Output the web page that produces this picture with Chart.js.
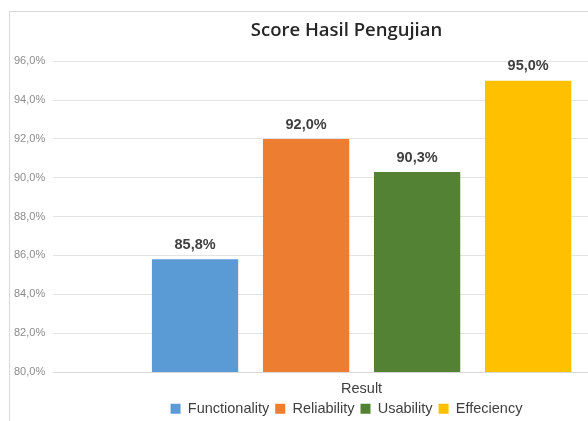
<!DOCTYPE html>
<html>
<head>
<meta charset="utf-8">
<script src="https://cdn.jsdelivr.net/npm/chart.js@4"></script>
<style>
  html, body { margin: 0; padding: 0; background: #fff; overflow: hidden; }
  #wrap {
    position: absolute; left: 9px; top: 11px;
    width: 674px; height: 413px;
    border: 1px solid #d9d9d9; box-sizing: border-box;
  }
</style>
</head>
<body>
<div id="wrap"><canvas id="scoreChart"></canvas></div>
<script>
const categories = ["Result"];
const seriesNames = ["Functionality", "Reliability", "Usability", "Effeciency"];
const seriesValues = [85.8, 92.0, 90.3, 95.0];
const seriesColors = ["#5b9bd5", "#ed7d31", "#548235", "#ffc000"];
const yTicks = [80, 82, 84, 86, 88, 90, 92, 94, 96];

// format like 85,8%
function pct(v) {
  return v.toFixed(1).replace(".", ",") + "%";
}

// draw the value above every bar
const valueLabels = {
  id: "valueLabels",
  afterDatasetsDraw(chart) {
    const ctx = chart.ctx;
    ctx.save();
    ctx.font = "bold 14.5px 'Liberation Sans', Arial, sans-serif";
    ctx.fillStyle = "#404040";
    ctx.textAlign = "center";
    ctx.textBaseline = "bottom";
    chart.data.datasets.forEach((ds, i) => {
      chart.getDatasetMeta(i).data.forEach((bar, j) => {
        ctx.fillText(pct(ds.data[j]), bar.x, bar.y - 7);
      });
    });
    ctx.restore();
  },
};

const ctx = document.getElementById("scoreChart").getContext("2d");
const chart = new Chart(ctx, {
  type: "bar",
  data: {
    labels: categories,
    datasets: seriesNames.map((name, i) => ({
      label: name,
      data: [seriesValues[i]],
      backgroundColor: seriesColors[i],
      borderWidth: 0,
      categoryPercentage: 0.72,
      barPercentage: 0.777,
    })),
  },
  options: {
    responsive: true,
    maintainAspectRatio: false,
    animation: false,
    layout: { padding: { left: -4, right: -5, top: 8, bottom: 2 } },
    plugins: {
      title: {
        display: true,
        text: "Score Hasil Pengujian",
        color: "#262626",
        font: { size: 18.5, weight: "600", family: "'Open Sans', sans-serif" },
        padding: { top: 0, bottom: 19 },
      },
      legend: {
        position: "bottom",
        labels: {
          color: "#404040",
          font: { size: 14.5, family: "'Liberation Sans', Arial, sans-serif" },
          boxWidth: 10,
          boxHeight: 10,
          padding: 6,
        },
      },
      tooltip: { enabled: false },
    },
    scales: {
      x: {
        grid: { display: false },
        border: { display: true, color: "#d9d9d9", width: 1 },
        ticks: {
          color: "#404040",
          font: { size: 14.5, lineHeight: 1.0, family: "'Liberation Sans', Arial, sans-serif" },
          padding: 2,
        },
      },
      y: {
        min: 80,
        max: 96,
        afterBuildTicks: (axis) => {
          axis.ticks = yTicks.map((v) => ({ value: v }));
        },
        grid: { color: "#e3e3e3", drawTicks: false },
        border: { display: false },
        ticks: {
          color: "#8c8c8c",
          font: { size: 11, family: "'Liberation Sans', Arial, sans-serif" },
          padding: 8,
          callback: (v) => pct(v),
        },
      },
      // empty spacer on the right, keeps the plot narrower than the frame
      spacer: {
        type: "linear",
        position: "right",
        grid: { display: false },
        border: { display: false },
        ticks: { display: false },
        afterFit: (axis) => {
          axis.width = 17;
        },
      },
    },
  },
  plugins: [valueLabels],
});

// legend box is a bit too tall with the wider item padding, trim it
// and draw the items a little higher
const origFit = chart.legend.fit;
chart.legend.fit = function () {
  origFit.call(this);
  this.height -= 8;
};
const origDraw = chart.legend.draw;
chart.legend.draw = function () {
  const c = this.ctx;
  c.save();
  c.translate(0, -3);
  origDraw.call(this);
  c.restore();
};
chart.update();
</script>
</body>
</html>
